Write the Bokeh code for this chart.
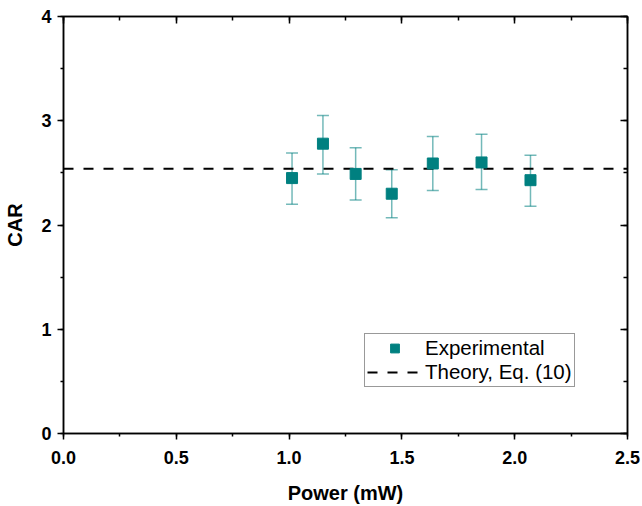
from bokeh.plotting import figure
from bokeh.models import (Range1d, LinearAxis, SingleIntervalTicker, Whisker, ColumnDataSource,
                          Legend, LegendItem, TeeHead, CustomJSTickFormatter)
from bokeh.embed import file_html
from bokeh.resources import INLINE

# Data
power_mw = [1.013, 1.150, 1.295, 1.455, 1.637, 1.853, 2.070]
car = [2.45, 2.78, 2.49, 2.30, 2.59, 2.60, 2.43]
car_upper = [2.69, 3.05, 2.74, 2.53, 2.85, 2.87, 2.67]
car_lower = [2.20, 2.49, 2.24, 2.07, 2.33, 2.34, 2.18]
theory_x = [0.0, 2.5]
theory_car = [2.54, 2.54]

TEAL = "#008080"
FONT = "Liberation Sans"

p = figure(width=642, height=506, output_backend="svg", toolbar_location=None,
           x_range=Range1d(0, 2.5), y_range=Range1d(0, 4),
           x_axis_location=None, y_axis_location=None,
           min_border_left=63, min_border_right=15, min_border_top=16, min_border_bottom=73)
p.xgrid.visible = False
p.ygrid.visible = False
p.outline_line_color = "black"
p.outline_line_width = 1.5
p.background_fill_color = "white"
p.border_fill_color = "white"

def style_axis(ax, labeled):
    ax.axis_line_color = "black"
    ax.axis_line_width = 1.5
    ax.major_tick_line_color = "black"
    ax.minor_tick_line_color = "black"
    ax.major_tick_line_width = 1.5
    ax.minor_tick_line_width = 1.5
    if labeled:
        ax.major_tick_out = 6
        ax.major_tick_in = 0
        ax.minor_tick_out = 3
        ax.minor_tick_in = 0
        ax.major_label_text_font = FONT
        ax.major_label_text_font_style = "bold"
        ax.major_label_text_font_size = "18px"
        ax.major_label_text_color = "black"
        ax.axis_label_text_font = FONT
        ax.axis_label_text_font_style = "bold"
        ax.axis_label_text_font_size = "20px"
        ax.axis_label_text_color = "black"
    else:
        ax.major_tick_out = 0
        ax.major_tick_in = 7
        ax.minor_tick_out = 0
        ax.minor_tick_in = 4
        ax.formatter = CustomJSTickFormatter(code="return '';")
        ax.major_label_standoff = 0

xb = LinearAxis(ticker=SingleIntervalTicker(interval=0.5, num_minor_ticks=2), axis_label="Power (mW)",
                formatter=CustomJSTickFormatter(code="return tick.toFixed(1);"))
style_axis(xb, True)
xb.major_label_standoff = 11
xb.axis_label_standoff = 15
p.add_layout(xb, "below")

yl = LinearAxis(ticker=SingleIntervalTicker(interval=1, num_minor_ticks=2), axis_label="CAR",
                formatter=CustomJSTickFormatter(code="return tick.toFixed(0);"))
style_axis(yl, True)
yl.major_label_standoff = 6
yl.axis_label_standoff = 12
p.add_layout(yl, "left")

xt = LinearAxis(ticker=SingleIntervalTicker(interval=0.5, num_minor_ticks=2))
style_axis(xt, False)
p.add_layout(xt, "above")

yr = LinearAxis(ticker=SingleIntervalTicker(interval=1, num_minor_ticks=2))
style_axis(yr, False)
p.add_layout(yr, "right")

src = ColumnDataSource(dict(x=power_mw, y=car, upper=car_upper, lower=car_lower))

th = p.line(theory_x, theory_car, line_color="black", line_width=2, line_dash="10 10")

wh = Whisker(base="x", upper="upper", lower="lower", source=src,
             line_color=TEAL, line_alpha=0.55, line_width=1.5,
             upper_head=TeeHead(size=12, line_color=TEAL, line_alpha=0.55, line_width=1.5),
             lower_head=TeeHead(size=12, line_color=TEAL, line_alpha=0.55, line_width=1.5))
p.add_layout(wh)

sq = p.scatter("x", "y", source=src, marker="square", size=11, fill_color=TEAL, line_color=TEAL)

legend = Legend(items=[LegendItem(label="Experimental", renderers=[sq]),
                       LegendItem(label="Theory, Eq. (10)", renderers=[th])],
                location=(301, 46), orientation="vertical")
legend.label_text_font = FONT
legend.label_text_font_size = "20.5px"
legend.label_text_color = "black"
legend.glyph_width = 55
legend.glyph_height = 22
legend.label_height = 22
legend.label_standoff = 3
legend.padding = 2
legend.spacing = 0
legend.margin = 0
legend.border_line_color = "#333333"
legend.border_line_width = 1
legend.background_fill_alpha = 1
p.add_layout(legend, "center")

open("out.html", "w").write(file_html(p, INLINE))
